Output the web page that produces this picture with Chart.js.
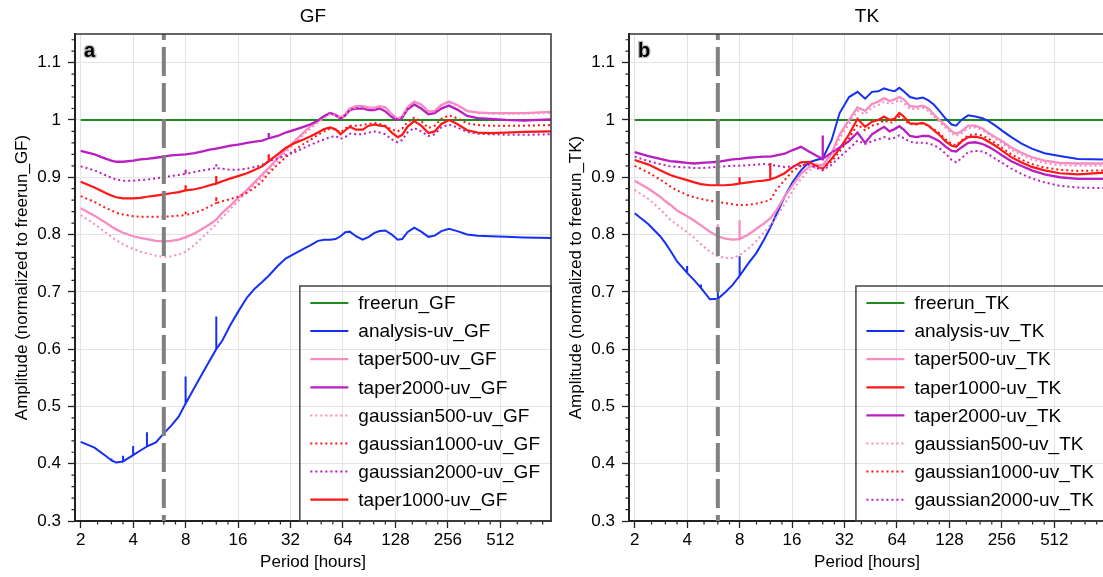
<!DOCTYPE html>
<html>
<head>
<meta charset="utf-8">
<script src="https://cdn.jsdelivr.net/npm/chart.js@4.4.1/dist/chart.umd.min.js"></script>
<style>
html, body { margin: 0; padding: 0; background: #fff; overflow: hidden; }
#wrap { position: relative; width: 1103px; height: 577px; overflow: hidden; }
canvas { position: absolute; top: 0; }
#gfChart { left: 0; }
#tkChart { left: 554px; }
</style>
</head>
<body>
<div id="wrap">
<canvas id="gfChart" width="554" height="577"></canvas>
<canvas id="tkChart" width="554" height="577"></canvas>
</div>
<script>
// period grid [hours], shared by every curve
const periods = [2, 2.4, 2.8, 3, 3.2, 3.5, 4, 4.4, 4.8, 5.4,
    6, 6.6, 7.3, 8, 9, 10, 11, 12, 13, 14.5,
    16, 18, 20, 22, 24, 27, 30, 34, 38, 42,
    46, 50, 54, 58, 62, 66, 70, 76, 83, 90,
    97, 104, 112, 122, 132, 140, 150, 164, 180, 198,
    215, 235, 260, 290, 330, 380, 450, 550, 700, 1000];

const xTicks = [2, 4, 8, 16, 32, 64, 128, 256, 512];
const yTicks = [0.3, 0.4, 0.5, 0.6, 0.7, 0.8, 0.9, 1.0, 1.1];
const dashPeriod = 6;

const freerunPeriods = [2, 1000];
const gfFreerun = [1, 1];
const tkFreerun = [1, 1];

// ---- GF ----
const gfAnalysis = [0.438, 0.428, 0.413, 0.406, 0.402, 0.404, 0.415, 0.423, 0.43, 0.437,
    0.453, 0.466, 0.482, 0.505, 0.533, 0.558, 0.58, 0.6, 0.615, 0.643,
    0.665, 0.69, 0.706, 0.717, 0.728, 0.745, 0.758, 0.767, 0.775, 0.782,
    0.789, 0.791, 0.791, 0.792, 0.797, 0.804, 0.805, 0.797, 0.791, 0.796,
    0.803, 0.806, 0.807, 0.8, 0.791, 0.792, 0.804, 0.812, 0.805, 0.796,
    0.798, 0.806, 0.81, 0.806, 0.8, 0.798, 0.797, 0.796, 0.795, 0.794];
const gfTaper500 = [0.846, 0.833, 0.82, 0.814, 0.809, 0.803, 0.797, 0.794, 0.792, 0.789,
    0.788, 0.789, 0.791, 0.795, 0.802, 0.81, 0.818, 0.826, 0.838, 0.851,
    0.864, 0.878, 0.892, 0.905, 0.916, 0.933, 0.948, 0.964, 0.978, 0.99,
    0.998, 1.006, 1.012, 1.01, 1.004, 1.01, 1.02, 1.024, 1.024, 1.022,
    1.021, 1.024, 1.022, 1.01, 1.002, 1.006, 1.022, 1.032, 1.027, 1.015,
    1.016, 1.026, 1.032, 1.026, 1.016, 1.013, 1.012, 1.012, 1.012, 1.014];
const gfTaper2000 = [0.946, 0.94, 0.932, 0.929, 0.927, 0.927, 0.929, 0.931, 0.932, 0.934,
    0.936, 0.938, 0.939, 0.94, 0.942, 0.945, 0.948, 0.95, 0.952, 0.955,
    0.957, 0.96, 0.962, 0.964, 0.968, 0.972, 0.978, 0.983, 0.988, 0.993,
    0.999, 1.007, 1.012, 1.008, 1.002, 1.008, 1.017, 1.02, 1.02, 1.017,
    1.017, 1.02, 1.015, 1.005, 1.0, 1.004, 1.018, 1.027, 1.02, 1.01,
    1.012, 1.02, 1.025, 1.018, 1.007, 1.003, 1.002, 1.0, 0.999, 1.001];
const gfGaussian500 = [0.834, 0.818, 0.803, 0.796, 0.79, 0.783, 0.775, 0.77, 0.767, 0.763,
    0.761, 0.762, 0.765, 0.77, 0.782, 0.795, 0.807, 0.818, 0.83, 0.845,
    0.858, 0.874, 0.888, 0.9, 0.912, 0.928, 0.943, 0.96, 0.974, 0.986,
    0.995, 1.003, 1.01, 1.008, 1.003, 1.009, 1.018, 1.022, 1.023, 1.021,
    1.02, 1.023, 1.021, 1.009, 1.002, 1.006, 1.021, 1.031, 1.026, 1.014,
    1.015, 1.025, 1.031, 1.025, 1.015, 1.012, 1.011, 1.011, 1.011, 1.012];
const gfGaussian1000 = [0.867, 0.857, 0.846, 0.842, 0.838, 0.835, 0.832, 0.831, 0.831, 0.831,
    0.831, 0.832, 0.833, 0.834, 0.838, 0.843, 0.849, 0.855, 0.858, 0.862,
    0.866, 0.873, 0.882, 0.893, 0.907, 0.922, 0.935, 0.948, 0.958, 0.966,
    0.974, 0.98, 0.985, 0.983, 0.978, 0.985, 0.99, 0.99, 0.991, 0.993,
    0.995, 0.993, 0.99, 0.983, 0.98, 0.985, 0.996, 1.004, 0.998, 0.986,
    0.99, 1.002, 1.008, 1.003, 0.994, 0.991, 0.99, 0.99, 0.99, 0.991];
const gfGaussian2000 = [0.919, 0.912, 0.903, 0.899, 0.896, 0.894, 0.894, 0.895, 0.896, 0.898,
    0.9, 0.902, 0.904, 0.906, 0.909, 0.912, 0.914, 0.916, 0.915, 0.913,
    0.913, 0.915, 0.918, 0.922, 0.928, 0.933, 0.938, 0.944, 0.951, 0.957,
    0.962, 0.966, 0.97, 0.972, 0.967, 0.97, 0.976, 0.975, 0.975, 0.978,
    0.98, 0.978, 0.975, 0.966, 0.961, 0.965, 0.978, 0.986, 0.98, 0.972,
    0.975, 0.987, 0.992, 0.987, 0.979, 0.976, 0.975, 0.974, 0.974, 0.975];
const gfTaper1000 = [0.892, 0.882, 0.872, 0.868, 0.865, 0.863, 0.863, 0.864, 0.866, 0.868,
    0.87, 0.872, 0.874, 0.877, 0.879, 0.882, 0.886, 0.889, 0.893, 0.898,
    0.902, 0.907, 0.913, 0.919, 0.928, 0.94, 0.951, 0.96, 0.966, 0.972,
    0.978, 0.984, 0.987, 0.984, 0.975, 0.982, 0.988, 0.983, 0.983, 0.99,
    0.992, 0.99, 0.989, 0.978, 0.97, 0.974, 0.988, 0.998, 0.99, 0.977,
    0.98, 0.993, 1.0, 0.993, 0.982, 0.978, 0.977, 0.978, 0.979, 0.98];

// spikes: [period, peak value]
const gfAnalysisSpikes = [[3, 0.409], [3.5, 0.414], [4, 0.431], [4.8, 0.455], [6, 0.496], [8, 0.552], [12, 0.657]];
const gfTaper2000Spikes = [[24, 0.977]];
const gfGaussian1000Spikes = [[8, 0.842], [12, 0.866]];
const gfGaussian2000Spikes = [[8, 0.914], [12, 0.925]];
const gfTaper1000Spikes = [[8, 0.886], [12, 0.902], [24, 0.94]];

// ---- TK ----
const tkAnalysis = [0.837, 0.818, 0.797, 0.785, 0.772, 0.753, 0.733, 0.72, 0.707, 0.687,
    0.688, 0.699, 0.712, 0.728, 0.75, 0.768, 0.79, 0.812, 0.835, 0.866,
    0.89, 0.912, 0.926, 0.93, 0.933, 0.965, 1.012, 1.04, 1.049, 1.037,
    1.049, 1.05, 1.055, 1.052, 1.05, 1.056, 1.05, 1.04, 1.037, 1.039,
    1.034, 1.027, 1.016, 1.002, 0.992, 0.99, 1.0, 1.008, 1.006, 1.003,
    0.998, 0.99, 0.98, 0.97, 0.959, 0.95, 0.942, 0.937, 0.932, 0.931];
const tkTaper500 = [0.894, 0.88, 0.866, 0.858, 0.852, 0.842, 0.832, 0.824, 0.816, 0.805,
    0.797, 0.793, 0.791, 0.792, 0.8, 0.81, 0.819, 0.828, 0.842, 0.866,
    0.885, 0.906, 0.918, 0.922, 0.921, 0.942, 0.975, 1.0, 1.022, 1.016,
    1.028, 1.032, 1.038, 1.033, 1.036, 1.04, 1.036, 1.024, 1.023, 1.025,
    1.02, 1.01, 1.0, 0.99, 0.98, 0.976, 0.98, 0.99, 0.99, 0.985,
    0.977, 0.97, 0.962, 0.952, 0.943, 0.935, 0.929, 0.925, 0.924, 0.924];
const tkTaper1000 = [0.93, 0.922, 0.912, 0.908, 0.904, 0.9, 0.895, 0.891, 0.888, 0.886,
    0.886, 0.886, 0.887, 0.889, 0.891, 0.893, 0.894, 0.896, 0.9, 0.907,
    0.917, 0.926, 0.927, 0.92, 0.915, 0.932, 0.95, 0.975, 1.002, 0.988,
    0.997, 1.0, 1.006, 1.0, 1.002, 1.012, 1.006, 0.994, 0.993, 0.995,
    0.99, 0.982, 0.974, 0.962, 0.955, 0.953, 0.962, 0.97, 0.971, 0.968,
    0.962, 0.955, 0.945, 0.935, 0.926, 0.918, 0.912, 0.907, 0.905, 0.908];
const tkTaper2000 = [0.944, 0.937, 0.932, 0.93, 0.928, 0.927, 0.925, 0.924, 0.925, 0.926,
    0.927, 0.929, 0.931, 0.932, 0.934, 0.935, 0.936, 0.936, 0.938, 0.941,
    0.947, 0.953, 0.945, 0.938, 0.932, 0.943, 0.952, 0.963, 0.978, 0.96,
    0.975, 0.982, 0.988, 0.98, 0.984, 0.989, 0.983, 0.972, 0.97, 0.972,
    0.972, 0.968, 0.963, 0.953, 0.946, 0.945, 0.952, 0.96, 0.961, 0.958,
    0.953, 0.946, 0.937, 0.928, 0.92, 0.912, 0.905, 0.9, 0.897, 0.897];
const tkGaussian500 = [0.878, 0.862, 0.844, 0.835, 0.826, 0.817, 0.804, 0.794, 0.783, 0.77,
    0.762, 0.759, 0.759, 0.764, 0.776, 0.789, 0.803, 0.816, 0.83, 0.853,
    0.875, 0.897, 0.912, 0.918, 0.918, 0.938, 0.968, 0.993, 1.016, 1.01,
    1.022, 1.026, 1.032, 1.028, 1.03, 1.035, 1.03, 1.019, 1.019, 1.021,
    1.016, 1.006, 0.996, 0.986, 0.976, 0.972, 0.976, 0.986, 0.987, 0.982,
    0.975, 0.967, 0.958, 0.948, 0.939, 0.931, 0.925, 0.921, 0.92, 0.92];
const tkGaussian1000 = [0.92, 0.908, 0.896, 0.89, 0.884, 0.877, 0.869, 0.865, 0.862, 0.859,
    0.857, 0.855, 0.853, 0.851, 0.852, 0.854, 0.857, 0.86, 0.878, 0.895,
    0.91, 0.92, 0.925, 0.918, 0.914, 0.928, 0.945, 0.968, 0.992, 0.982,
    0.99, 0.993, 0.999, 0.995, 0.997, 1.006, 1.0, 0.993, 0.992, 0.994,
    0.99, 0.984, 0.977, 0.966, 0.958, 0.956, 0.964, 0.973, 0.975, 0.973,
    0.967, 0.96, 0.95, 0.94, 0.931, 0.923, 0.917, 0.913, 0.911, 0.912];
const tkGaussian2000 = [0.936, 0.928, 0.923, 0.921, 0.919, 0.918, 0.917, 0.916, 0.916, 0.917,
    0.918, 0.919, 0.92, 0.92, 0.921, 0.922, 0.923, 0.922, 0.92, 0.918,
    0.919, 0.921, 0.922, 0.916, 0.912, 0.922, 0.935, 0.95, 0.964, 0.958,
    0.963, 0.966, 0.97, 0.967, 0.969, 0.973, 0.968, 0.962, 0.96, 0.96,
    0.959, 0.956, 0.951, 0.941, 0.93, 0.926, 0.933, 0.944, 0.946, 0.945,
    0.94, 0.932, 0.924, 0.915, 0.906, 0.898, 0.891, 0.885, 0.882, 0.881];

const tkAnalysisSpikes = [[4, 0.745], [4.8, 0.713], [6, 0.722], [8, 0.762]];
const tkTaper500Spikes = [[6, 0.818], [8, 0.825]];
const tkTaper1000Spikes = [[6, 0.898], [8, 0.9], [12, 0.925]];
const tkTaper2000Spikes = [[24, 0.973]];

const FONT = "'Liberation Sans', Arial, Helvetica, sans-serif";

const styles = {
    freerun: { color: '#1f8a1f', width: 2, dash: [] },
    analysis: { color: '#1530f0', width: 2, dash: [] },
    taper500: { color: '#f78cc2', width: 2.3, dash: [] },
    taper1000: { color: '#ff1616', width: 2.2, dash: [] },
    taper2000: { color: '#b81ec0', width: 2.3, dash: [] },
    gaussian500: { color: '#f78cc2', width: 2, dash: [2, 3] },
    gaussian1000: { color: '#ff1616', width: 2, dash: [2, 3] },
    gaussian2000: { color: '#b81ec0', width: 2, dash: [2, 3] }
};

function buildPoints(xs, vals, spikes) {
    const pts = [];
    xs.forEach((p, i) => {
        pts.push({ x: p, y: vals[i] });
        const s = spikes ? spikes.find(sp => sp[0] === p) : null;
        if (s) {
            pts.push({ x: p, y: s[1] });
            pts.push({ x: p, y: vals[i] });
        }
    });
    return pts;
}

// draws frame, minor ticks, title, panel letter and legend box
const panelDecor = {
    id: 'panelDecor',
    afterDraw(chart, args, opts) {
        const { ctx, chartArea: a, scales: { x, y } } = chart;
        ctx.save();

        ctx.strokeStyle = '#333';
        ctx.lineWidth = 1.5;
        ctx.beginPath();
        ctx.moveTo(a.left, a.top);
        ctx.lineTo(a.right, a.top);
        ctx.lineTo(a.right, a.bottom);
        ctx.stroke();

        // minor ticks
        ctx.strokeStyle = '#222';
        ctx.lineWidth = 1.2;
        ctx.beginPath();
        xTicks.concat([1, 1024]).forEach(t => {
            [1.25, 1.5, 1.75].forEach(m => {
                const v = t * m;
                if (v < x.min || v > x.max) return;
                const px = x.getPixelForValue(v);
                ctx.moveTo(px, a.bottom);
                ctx.lineTo(px, a.bottom + 3.5);
            });
        });
        for (let k = 15; k <= 57; k++) {
            if (k % 5 === 0) continue;
            const v = k * 0.02;
            if (v > y.max) break;
            const py = y.getPixelForValue(v);
            ctx.moveTo(a.left, py);
            ctx.lineTo(a.left - 3.5, py);
        }
        ctx.stroke();

        // title
        ctx.fillStyle = '#000';
        ctx.font = '19px ' + FONT;
        ctx.textAlign = 'center';
        ctx.textBaseline = 'middle';
        ctx.fillText(opts.title, (a.left + a.right) / 2, 17);

        // panel letter
        ctx.textAlign = 'left';
        ctx.textBaseline = 'alphabetic';
        ctx.font = 'bold 20px ' + FONT;
        ctx.strokeStyle = 'rgba(150,150,150,0.6)';
        ctx.lineWidth = 2.5;
        ctx.strokeText(opts.letter, a.left + 9, a.top + 23);
        ctx.fillText(opts.letter, a.left + 9, a.top + 23);

        // legend
        ctx.font = '19px ' + FONT;
        const items = opts.items;
        const textW = Math.max(...items.map(it => ctx.measureText(it.label).width));
        const boxW = 10.5 + 38 + 10 + textW + 11;
        const boxH = 235;
        const bx = a.right - boxW;
        const by = a.bottom - boxH;
        ctx.strokeStyle = '#444';
        ctx.lineWidth = 1.5;
        ctx.strokeRect(bx, by, boxW, boxH);
        ctx.textBaseline = 'middle';
        items.forEach((it, i) => {
            const cy = by + 17 + i * 28.1;
            ctx.strokeStyle = it.style.color;
            ctx.lineWidth = it.style.width;
            ctx.setLineDash(it.style.dash);
            ctx.beginPath();
            ctx.moveTo(bx + 10.5, cy);
            ctx.lineTo(bx + 48.5, cy);
            ctx.stroke();
            ctx.setLineDash([]);
            ctx.fillStyle = '#000';
            ctx.fillText(it.label, bx + 58.5, cy + 1);
        });
        ctx.restore();
    }
};

function makeChart(canvasId, title, letter, yTitle, series) {
    const yMin = 0.3, yMax = 1.15;
    const n = series.length;
    const datasets = [{
        label: 'marker',
        data: [{ x: dashPeriod, y: yMax }, { x: dashPeriod, y: yMin }],
        borderColor: '#808080',
        borderWidth: 4,
        borderDash: [29, 7],
        borderDashOffset: 23,
        pointRadius: 0,
        fill: false,
        order: 0
    }];
    series.forEach((s, i) => {
        const st = styles[s.kind];
        datasets.push({
            label: s.label,
            data: buildPoints(s.x || periods, s.values, s.spikes),
            borderColor: st.color,
            borderWidth: st.width,
            borderDash: st.dash,
            pointRadius: 0,
            fill: false,
            tension: 0,
            order: n - i
        });
    });

    return new Chart(document.getElementById(canvasId), {
        type: 'line',
        data: { datasets },
        plugins: [panelDecor],
        options: {
            responsive: false,
            animation: false,
            layout: { padding: { top: 34, right: 3, left: 0, bottom: 0 } },
            plugins: {
                legend: { display: false },
                tooltip: { enabled: false },
                panelDecor: {
                    title: title,
                    letter: letter,
                    items: series.map(s => ({ label: s.label, style: styles[s.kind] }))
                }
            },
            scales: {
                x: {
                    type: 'logarithmic',
                    min: 1.855,
                    max: 1000,
                    afterBuildTicks: s => { s.ticks = xTicks.map(v => ({ value: v })); },
                    afterFit: s => { s.height = 56; },
                    ticks: {
                        autoSkip: false, maxRotation: 0, padding: 2, color: '#000',
                        font: { family: FONT, size: 17 },
                        callback: v => String(v)
                    },
                    grid: { color: '#e3e3e3', lineWidth: 1, tickLength: 7, tickColor: '#222', tickWidth: 1.3 },
                    border: { color: '#222', width: 2 },
                    title: {
                        display: true, text: 'Period [hours]', color: '#000',
                        font: { family: FONT, size: 17 }, padding: { top: 0, bottom: 4 }
                    }
                },
                y: {
                    type: 'linear',
                    min: yMin,
                    max: yMax,
                    afterBuildTicks: s => { s.ticks = yTicks.map(v => ({ value: v })); },
                    afterFit: s => { s.width = 75; },
                    ticks: {
                        padding: 7, color: '#000',
                        font: { family: FONT, size: 17 },
                        callback: v => String(Math.round(v * 10) / 10)
                    },
                    grid: { color: '#e3e3e3', lineWidth: 1, tickLength: 7, tickColor: '#222', tickWidth: 1.3 },
                    border: { color: '#222', width: 2 },
                    title: {
                        display: true, text: yTitle, color: '#000',
                        font: { family: FONT, size: 17 }, padding: { top: 12, bottom: 0 }
                    }
                }
            }
        }
    });
}

makeChart('gfChart', 'GF', 'a', 'Amplitude (normalized to freerun_GF)', [
    { label: 'freerun_GF', kind: 'freerun', x: freerunPeriods, values: gfFreerun },
    { label: 'analysis-uv_GF', kind: 'analysis', values: gfAnalysis, spikes: gfAnalysisSpikes },
    { label: 'taper500-uv_GF', kind: 'taper500', values: gfTaper500 },
    { label: 'taper2000-uv_GF', kind: 'taper2000', values: gfTaper2000, spikes: gfTaper2000Spikes },
    { label: 'gaussian500-uv_GF', kind: 'gaussian500', values: gfGaussian500 },
    { label: 'gaussian1000-uv_GF', kind: 'gaussian1000', values: gfGaussian1000, spikes: gfGaussian1000Spikes },
    { label: 'gaussian2000-uv_GF', kind: 'gaussian2000', values: gfGaussian2000, spikes: gfGaussian2000Spikes },
    { label: 'taper1000-uv_GF', kind: 'taper1000', values: gfTaper1000, spikes: gfTaper1000Spikes }
]);

makeChart('tkChart', 'TK', 'b', 'Amplitude (normalized to freerun_TK)', [
    { label: 'freerun_TK', kind: 'freerun', x: freerunPeriods, values: tkFreerun },
    { label: 'analysis-uv_TK', kind: 'analysis', values: tkAnalysis, spikes: tkAnalysisSpikes },
    { label: 'taper500-uv_TK', kind: 'taper500', values: tkTaper500, spikes: tkTaper500Spikes },
    { label: 'taper1000-uv_TK', kind: 'taper1000', values: tkTaper1000, spikes: tkTaper1000Spikes },
    { label: 'taper2000-uv_TK', kind: 'taper2000', values: tkTaper2000, spikes: tkTaper2000Spikes },
    { label: 'gaussian500-uv_TK', kind: 'gaussian500', values: tkGaussian500 },
    { label: 'gaussian1000-uv_TK', kind: 'gaussian1000', values: tkGaussian1000 },
    { label: 'gaussian2000-uv_TK', kind: 'gaussian2000', values: tkGaussian2000 }
]);
</script>
</body>
</html>
